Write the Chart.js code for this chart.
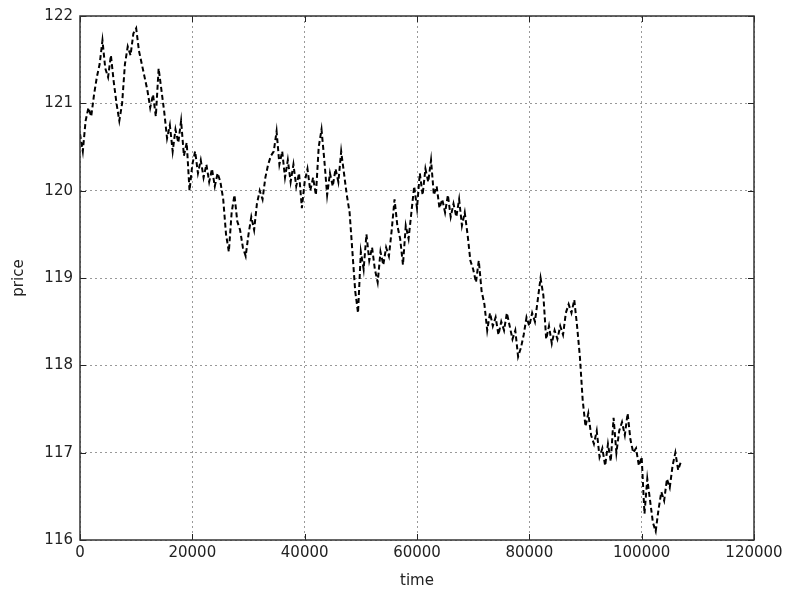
<!DOCTYPE html>
<html>
<head>
<meta charset="utf-8">
<script src="https://cdn.jsdelivr.net/npm/chart.js@4/dist/chart.umd.min.js"></script>
<style>
  html, body { margin: 0; padding: 0; background: #fff; }
  #wrap { width: 789px; height: 590px; }
</style>
</head>
<body>
<div id="wrap"><canvas id="priceChart" width="789" height="590"></canvas></div>
<script>
const sampleStep = 500;
const prices = [
  120.65, 120.45, 120.8, 120.95, 120.85, 121.1, 121.3, 121.45, 121.72, 121.4,
  121.3, 121.55, 121.25, 121.0, 120.8, 121.0, 121.45, 121.65, 121.55, 121.8,
  121.86, 121.6, 121.45, 121.3, 121.15, 120.95, 121.1, 120.85, 121.4, 121.15,
  120.9, 120.6, 120.75, 120.45, 120.7, 120.55, 120.8, 120.4, 120.55, 120.0,
  120.3, 120.45, 120.2, 120.35, 120.15, 120.3, 120.1, 120.25, 120.05, 120.2,
  120.1, 119.9, 119.5, 119.3, 119.75, 119.95, 119.65, 119.55, 119.35, 119.25,
  119.5, 119.7, 119.55, 119.85, 120.0, 119.9, 120.15, 120.3, 120.4, 120.45,
  120.68, 120.3, 120.45, 120.15, 120.35, 120.1, 120.3, 120.05, 120.2, 119.8,
  120.1, 120.25, 120.0, 120.15, 119.95, 120.5, 120.7, 120.35, 119.95, 120.2,
  120.05, 120.25, 120.1, 120.45, 120.2, 119.95, 119.75, 119.3, 118.85, 118.6,
  119.3, 119.1, 119.5, 119.2, 119.35, 119.1, 118.95, 119.3, 119.15, 119.35,
  119.25, 119.55, 119.9, 119.6, 119.45, 119.15, 119.6, 119.45, 119.75, 120.05,
  119.8, 120.2, 119.95, 120.25, 120.1, 120.35, 119.95, 120.05, 119.8, 119.9,
  119.75, 119.95, 119.7, 119.85, 119.7, 119.9, 119.6, 119.75, 119.5, 119.2,
  119.1, 118.95, 119.2, 118.85, 118.7, 118.4, 118.6, 118.45, 118.55, 118.35,
  118.5, 118.4, 118.6, 118.45, 118.3, 118.4, 118.1, 118.2, 118.35, 118.55,
  118.45, 118.6, 118.5, 118.75, 119.0, 118.8, 118.3, 118.45, 118.25, 118.4,
  118.3, 118.45, 118.35, 118.6, 118.7, 118.6, 118.75, 118.45, 118.1, 117.6,
  117.3, 117.45, 117.2, 117.1, 117.25, 116.95, 117.05, 116.85, 117.1, 116.9,
  117.4, 117.0, 117.25, 117.35, 117.2, 117.45, 117.15, 117.0, 117.05, 116.85,
  116.95, 116.3, 116.7, 116.45, 116.2, 116.1, 116.35, 116.55, 116.45, 116.7,
  116.6, 116.85, 117.0, 116.8, 116.9
];
const xTicks = [0, 20000, 40000, 60000, 80000, 100000, 120000];
const yTicks = [116, 117, 118, 119, 120, 121, 122];

const points = prices.map((p, i) => ({ x: i * sampleStep, y: p }));

const tickFont = { family: 'DejaVu Sans', size: 15 };

// classic-style frame: box round the plot plus inward ticks on all sides
const framePlugin = {
  id: 'frame',
  afterDraw(chart) {
    const { ctx, chartArea: a, scales } = chart;
    ctx.save();
    ctx.strokeStyle = '#222';
    ctx.lineWidth = 1;
    ctx.setLineDash([]);
    ctx.beginPath();
    scales.x.ticks.forEach(t => {
      const px = Math.round(scales.x.getPixelForValue(t.value)) + 0.5;
      ctx.moveTo(px, a.bottom); ctx.lineTo(px, a.bottom - 6);
      ctx.moveTo(px, a.top); ctx.lineTo(px, a.top + 6);
    });
    scales.y.ticks.forEach(t => {
      const py = Math.round(scales.y.getPixelForValue(t.value)) + 0.5;
      ctx.moveTo(a.left, py); ctx.lineTo(a.left + 6, py);
      ctx.moveTo(a.right, py); ctx.lineTo(a.right - 6, py);
    });
    ctx.stroke();
    ctx.strokeStyle = '#333';
    ctx.lineWidth = 1.5;
    ctx.strokeRect(a.left, a.top, a.right - a.left, a.bottom - a.top);
    ctx.restore();
  }
};

new Chart(document.getElementById('priceChart'), {
  type: 'line',
  data: {
    datasets: [{
      data: points,
      borderColor: '#000',
      borderWidth: 2,
      borderDash: [5, 3],
      pointRadius: 0,
      tension: 0,
      fill: false
    }]
  },
  options: {
    responsive: false,
    animation: false,
    layout: { padding: { top: 15, right: 35, left: 0, bottom: 0 } },
    plugins: { legend: { display: false }, tooltip: { enabled: false } },
    scales: {
      x: {
        type: 'linear',
        min: 0, max: 120000,
        afterBuildTicks: s => { s.ticks = xTicks.map(v => ({ value: v })); },
        afterFit: s => { s.height = 50; },
        ticks: { font: tickFont, color: '#222', padding: 4, maxRotation: 0, callback: v => String(v) },
        grid: { color: '#999', lineWidth: 1, drawTicks: false },
        border: { display: false, dash: [2, 3] },
        title: { display: true, text: 'time', font: tickFont, color: '#222', padding: { top: 2, bottom: 0 } }
      },
      y: {
        min: 116, max: 122,
        afterBuildTicks: s => { s.ticks = yTicks.map(v => ({ value: v })); },
        afterFit: s => { s.width = 80; },
        ticks: { font: tickFont, color: '#222', padding: 7, callback: v => String(v) },
        grid: { color: '#999', lineWidth: 1, drawTicks: false },
        border: { display: false, dash: [2, 3] },
        title: { display: true, text: 'price', font: tickFont, color: '#222', padding: { top: 10, bottom: 4 } }
      }
    }
  },
  plugins: [framePlugin]
});
</script>
</body>
</html>
